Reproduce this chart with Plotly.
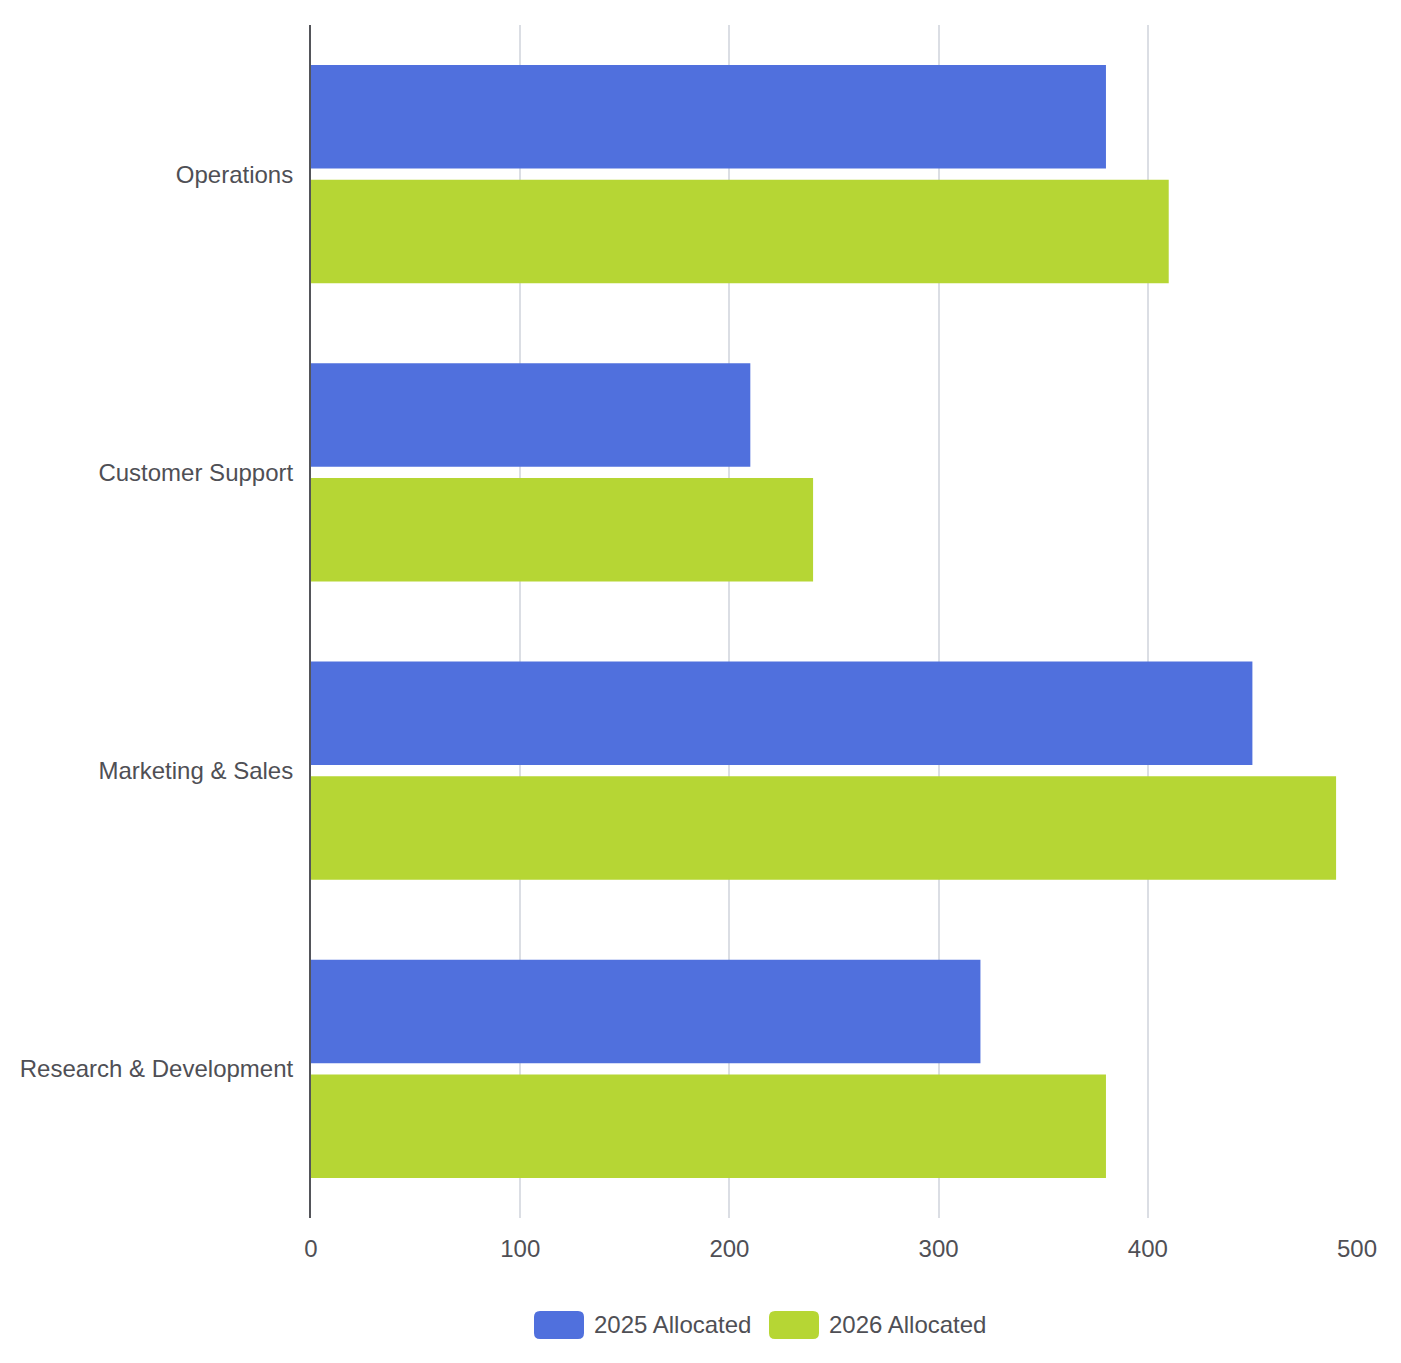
import plotly.graph_objects as go

categories = ["Operations", "Customer Support", "Marketing & Sales", "Research & Development"]
alloc_2025 = [380, 210, 450, 320]
alloc_2026 = [410, 240, 490, 380]
x_ticks = [0, 100, 200, 300, 400, 500]
series_names = ["2025 Allocated", "2026 Allocated"]
colors = ["#5070dd", "#b6d634"]

OFF = 8  # default page body margin
W, H = 1401 - OFF, 1363 - OFF
ML, MR, MT, MB = 311 - OFF, 44, 25 - OFF, 145
PW, PH = W - ML - MR, H - MT - MB

fig = go.Figure()
for name, vals, col in zip(series_names, [alloc_2025, alloc_2026], colors):
    fig.add_trace(go.Bar(y=categories, x=vals, orientation="h", name=name,
                         marker=dict(color=col, line=dict(width=0))))

def px_x(p):
    return (p - OFF - ML) / PW

def px_y(p):
    return (H - MB - (p - OFF)) / PH

def rounded_rect(x0, y0, x1, y1, r):
    X, Y = px_x, px_y
    return (f"M {X(x0+r)},{Y(y0)} L {X(x1-r)},{Y(y0)} Q {X(x1)},{Y(y0)} {X(x1)},{Y(y0+r)} "
            f"L {X(x1)},{Y(y1-r)} Q {X(x1)},{Y(y1)} {X(x1-r)},{Y(y1)} "
            f"L {X(x0+r)},{Y(y1)} Q {X(x0)},{Y(y1)} {X(x0)},{Y(y1-r)} "
            f"L {X(x0)},{Y(y0+r)} Q {X(x0)},{Y(y0)} {X(x0+r)},{Y(y0)} Z")

shapes = []
annotations = []
legend_x = [534, 769]
for lx, name, col in zip(legend_x, series_names, colors):
    shapes.append(dict(type="path", xref="paper", yref="paper",
                       path=rounded_rect(lx, 1311, lx + 50, 1339, 6),
                       fillcolor=col, line=dict(width=0)))
    annotations.append(dict(x=px_x(lx + 58), y=px_y(1325), xref="paper", yref="paper",
                            text=name, showarrow=False, xanchor="left", yanchor="middle",
                            font=dict(size=24, color="#4f4f55")))

fig.update_layout(
    width=W, height=H,
    margin=dict(l=ML, r=MR, t=MT, b=MB, pad=0),
    barmode="group", bargap=0.23, bargroupgap=0.1,
    paper_bgcolor="white", plot_bgcolor="white",
    font=dict(family="Liberation Sans, Arial, sans-serif", size=24, color="#4f4f55"),
    showlegend=False,
    shapes=shapes, annotations=annotations,
    xaxis=dict(range=[0, 500], tickvals=x_ticks, showgrid=True, gridcolor="#dbdee4",
               gridwidth=2, zeroline=False, showline=False, ticks="",
               ticklabelstandoff=14, fixedrange=True),
    yaxis=dict(autorange="reversed", showline=True, linecolor="#54555a", linewidth=2,
               showgrid=False, ticks="", ticklabelstandoff=11, fixedrange=True),
)

fig.write_html("out.html")
